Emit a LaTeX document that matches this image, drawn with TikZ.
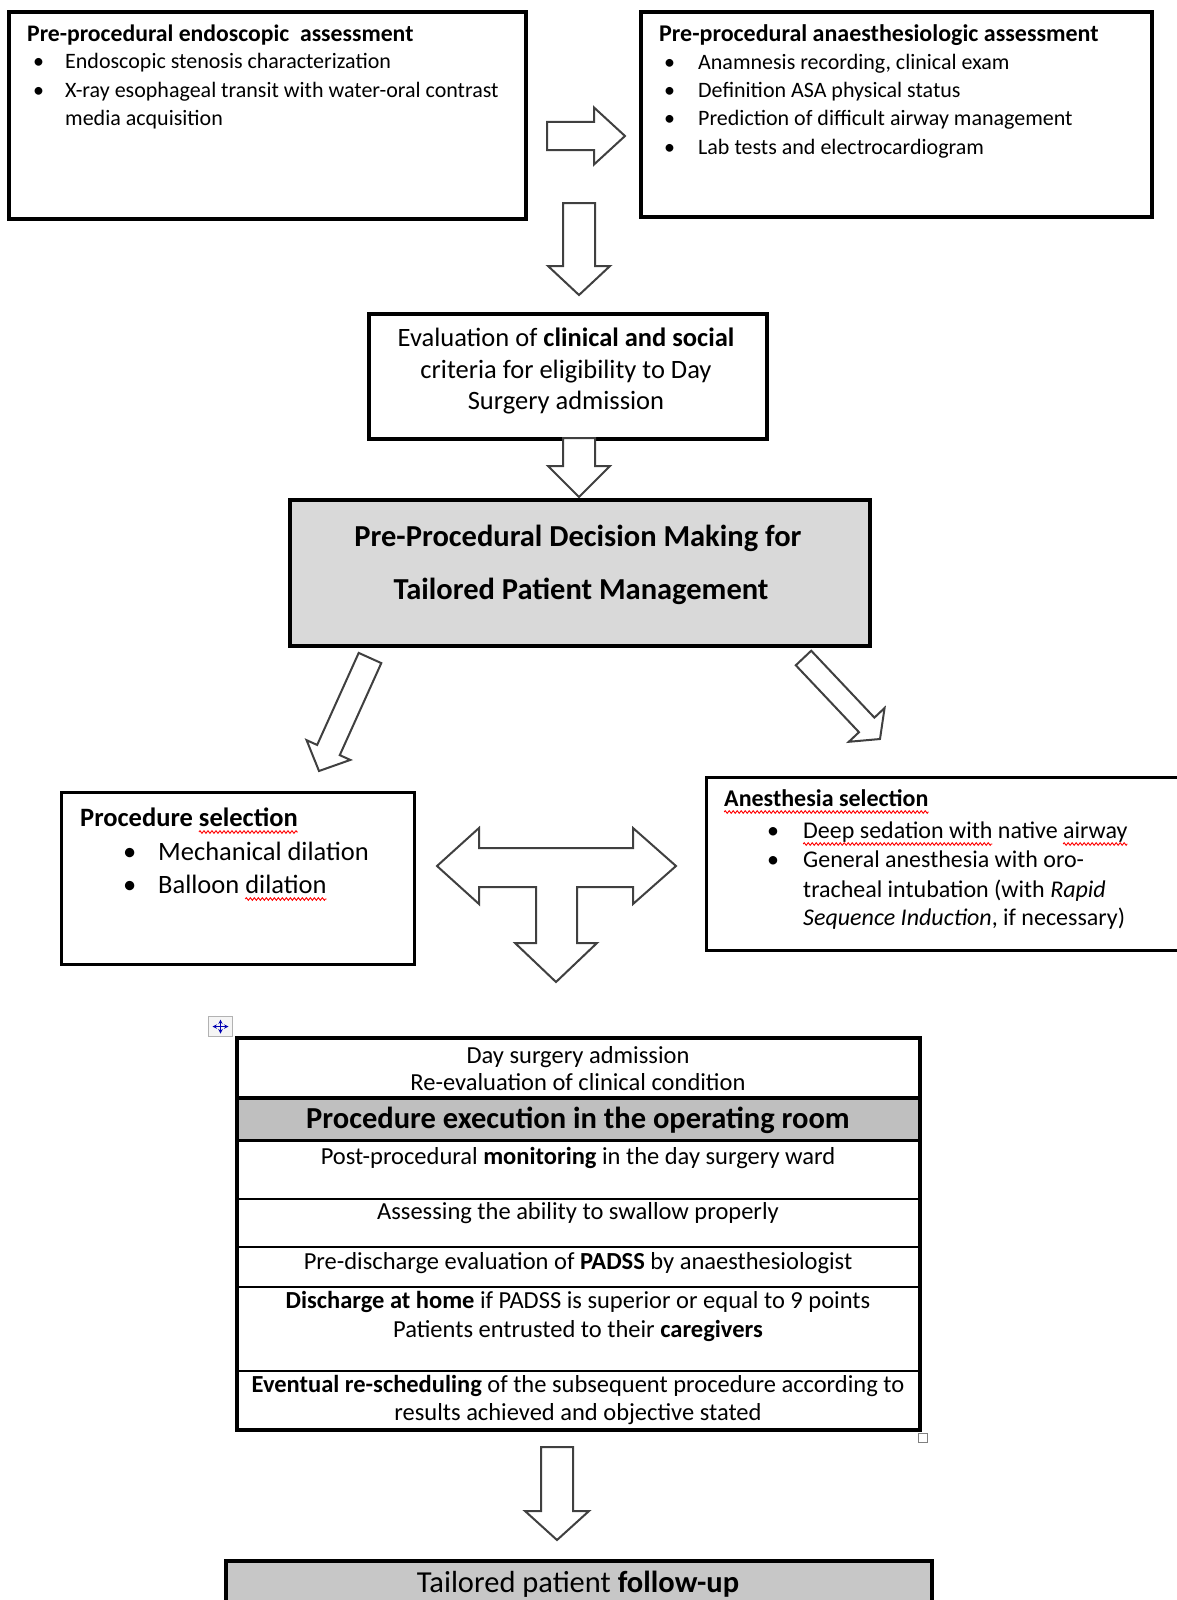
\documentclass[tikz,border=0pt]{standalone}
\usepackage{fontspec}
\setmainfont{Carlito}
\usetikzlibrary{calc,decorations.pathmorphing}
\newsavebox\spbox
\newdimen\spw
\newcommand\spell[1]{\sbox\spbox{#1}\spw=\wd\spbox\usebox\spbox\tikz[overlay,x=1pt,y=1pt]\draw[red, line width=0.9pt, decorate, decoration={zigzag, segment length=4pt, amplitude=1.3pt}] (-\spw,-6pt) -- (0pt,-6pt);}
\newcommand\blockarrow[6]{% name, tail, tip, shaft half width, head half width, head length
  \coordinate (#1c) at ($(#3)!#6!(#2)$);
  \draw[barrow] ($(#2)!#4!90:(#3)$) -- ($(#1c)!#4!-90:(#2)$) -- ($(#1c)!#5!-90:(#2)$) -- (#3)
     -- ($(#1c)!#5!90:(#2)$) -- ($(#1c)!#4!90:(#2)$) -- ($(#2)!#4!-90:(#3)$) -- cycle;
}
\tikzset{
  box/.style={draw, line width=3.8pt, inner sep=0pt, anchor=north west},
  row/.style={draw, line width=1.8pt, inner sep=0pt, anchor=north west, minimum width=681pt},
  barrow/.style={draw=black!75, line width=2pt, fill=white, line join=miter},
  txt/.style={inner sep=0pt, anchor=base west},
  ctxt/.style={inner sep=0pt, anchor=base},
  s22/.style={font=\fontsize{22}{26}\selectfont},
  b235/.style={font=\fontsize{23.7}{28}\selectfont\bfseries},
  s24/.style={font=\fontsize{24}{28}\selectfont},
  b24/.style={font=\fontsize{24}{28}\selectfont\bfseries},
  s245/.style={font=\fontsize{24.5}{29}\selectfont},
  s265/.style={font=\fontsize{26.5}{31}\selectfont},
  b265/.style={font=\fontsize{26.5}{31}\selectfont\bfseries},
  s305/.style={font=\fontsize{30.5}{36}\selectfont},
  b305/.style={font=\fontsize{30.5}{36}\selectfont\bfseries},
}
\begin{document}
\begin{tikzpicture}[x=1pt,y=-1pt]
\useasboundingbox (0,0) rectangle (1176,1600);
\fill[white] (0,0) rectangle (1176,1600);

% ---------- boxes ----------
\node[box, minimum width=517pt, minimum height=207pt] (b1) at (7,10) {};
\node[box, minimum width=511pt, minimum height=205pt] (b2) at (639,10) {};
\node[box, minimum width=398pt, minimum height=125pt] (b3) at (367,312) {};
\node[box, minimum width=580pt, minimum height=146pt, fill=black!15] (b4) at (288,498) {};
\node[box, line width=3.2pt, minimum width=353pt, minimum height=172pt] (b5) at (60,791) {};
\node[box, line width=3.2pt, minimum width=500pt, minimum height=173pt] (b6) at (705,776) {};
\node[box, minimum width=706pt, minimum height=70pt, fill=black!22] (b7) at (224,1559) {};

% ---------- box 1 ----------
\node[txt, b235] (b1t) at (27,42) {Pre-procedural endoscopic\ \ assessment};
\node[txt, s22] (b1b1) at (33,69) {\textbullet};
\node[txt, s22] (b1l1) at (65,69) {Endoscopic stenosis characterization};
\node[txt, s22] (b1b2) at (33,98) {\textbullet};
\node[txt, s22] (b1l2) at (65,98) {X-ray esophageal transit with water-oral contrast};
\node[txt, s22] (b1l3) at (65,125) {media acquisition};

% ---------- box 2 ----------
\node[txt, b24] (b2t) at (659,42) {Pre-procedural anaesthesiologic assessment};
\node[txt, s22] (b2b1) at (664,70) {\textbullet};
\node[txt, s22] (b2l1) at (698,70) {Anamnesis recording, clinical exam};
\node[txt, s22] (b2b2) at (664,98) {\textbullet};
\node[txt, s22] (b2l2) at (698,98) {Definition ASA physical status};
\node[txt, s22] (b2b3) at (664,125) {\textbullet};
\node[txt, s22] (b2l3) at (698,125) {Prediction of difficult airway management};
\node[txt, s22] (b2b4) at (664,154) {\textbullet};
\node[txt, s22] (b2l4) at (698,154) {Lab tests and electrocardiogram};

% ---------- box 3 ----------
\node[ctxt, s265] (b3l1) at (566,346) {Evaluation of \textbf{clinical and social}};
\node[ctxt, s265] (b3l2) at (566,378) {criteria for eligibility to Day};
\node[ctxt, s265] (b3l3) at (566,409) {Surgery admission};

% ---------- box 4 ----------
\node[ctxt, b305] (b4l1) at (578,546) {Pre-Procedural Decision Making for};
\node[ctxt, b305] (b4l2) at (581,599) {Tailored Patient Management};

% ---------- box 5 ----------
\node[txt, b265] (b5t) at (80,826) {Procedure \spell{selection}};
\node[txt, s265] (b5b1) at (123,860) {\textbullet};
\node[txt, s265] (b5l1) at (158,860) {Mechanical dilation};
\node[txt, s265] (b5b2) at (123,893) {\textbullet};
\node[txt, s265] (b5l2) at (158,893) {Balloon \spell{dilation}};

% ---------- box 6 ----------
\node[txt, b24] (b6t) at (724,806) {\spell{Anesthesia selection}};
\node[txt, s24] (b6b1) at (767,838) {\textbullet};
\node[txt, s24] (b6l1) at (803,838) {\spell{Deep sedation with} native \spell{airway}};
\node[txt, s24] (b6b2) at (767,867) {\textbullet};
\node[txt, s24] (b6l2) at (803,867) {General anesthesia with oro-};
\node[txt, s24] (b6l3) at (803,897) {tracheal intubation (with \textit{Rapid}};
\node[txt, s24] (b6l4) at (803,925) {\textit{Sequence Induction}, if necessary)};

% ---------- table ----------
\node[row, minimum height=60pt] (r1) at (237,1038) {};
\node[row, minimum height=41pt, fill=black!25] (r2) at (237,1098) {};
\node[row, minimum height=59pt] (r3) at (237,1139) {};
\node[row, minimum height=48pt] (r4) at (237,1198) {};
\node[row, minimum height=40pt] (r5) at (237,1246) {};
\node[row, minimum height=84pt] (r6) at (237,1286) {};
\node[row, minimum height=58pt] (r7) at (237,1370) {};
\draw[line width=4pt] (r2.north west) -- (r2.north east);
\draw[line width=3pt] (r2.south west) -- (r2.south east);
\draw[line width=4pt] (r1.north west) rectangle (r7.south east);

\node[ctxt, s245] (t1a) at (578,1063) {Day surgery admission};
\node[ctxt, s245] (t1b) at (578,1090) {Re-evaluation of clinical condition};
\node[ctxt, b305] (t2) at (578,1128) {Procedure execution in the operating room};
\node[ctxt, s245] (t3) at (578,1164) {Post-procedural \textbf{monitoring} in the day surgery ward};
\node[ctxt, s245] (t4) at (578,1219) {Assessing the ability to swallow properly};
\node[ctxt, s245] (t5) at (578,1269) {Pre-discharge evaluation of \textbf{PADSS} by anaesthesiologist};
\node[ctxt, s245] (t6a) at (578,1308) {\textbf{Discharge at home} if PADSS is superior or equal to 9 points};
\node[ctxt, s245] (t6b) at (578,1337) {Patients entrusted to their \textbf{caregivers}};
\node[ctxt, s245] (t7a) at (578,1392) {\textbf{Eventual re-scheduling} of the subsequent procedure according to};
\node[ctxt, s245] (t7b) at (578,1420) {results achieved and objective stated};

% table handles
\node[draw=black!30, fill=black!4, line width=1pt, minimum width=24pt, minimum height=20pt, inner sep=0pt, anchor=north west] (handle) at (208,1016) {};
\draw[blue!70!black, line width=1pt, <->, >=stealth] ($(handle.center)+(-8,0)$) -- ($(handle.center)+(8,0)$);
\draw[blue!70!black, line width=1pt, <->, >=stealth] ($(handle.center)+(0,-7)$) -- ($(handle.center)+(0,7)$);
\node[draw=black!50, fill=white, line width=1pt, minimum size=9pt, inner sep=0pt, anchor=north west] (resize) at (918,1433) {};

% ---------- final ----------
\node[ctxt, s305] (b7l) at (578,1592) {Tailored patient \textbf{follow-up}};

% ---------- arrows ----------
\coordinate (a1s) at (547,136); \coordinate (a1e) at (625,136);
\blockarrow{a1}{a1s}{a1e}{14pt}{28.5pt}{31pt}
\coordinate (a2s) at (579,203); \coordinate (a2e) at (579,295);
\blockarrow{a2}{a2s}{a2e}{16pt}{31pt}{29pt}
\coordinate (a3s) at (579,438); \coordinate (a3e) at (579,497);
\blockarrow{a3}{a3s}{a3e}{16pt}{31pt}{31pt}
\coordinate (a4s) at (370,658); \coordinate (a4e) at (319,771);
\blockarrow{a4}{a4s}{a4e}{12.4pt}{24pt}{23pt}
\coordinate (a5s) at (803.5,658); \coordinate (a5e) at (880,739);
\blockarrow{a5}{a5s}{a5e}{10.6pt}{24.6pt}{19.4pt}
\coordinate (a6s) at (557,1447); \coordinate (a6e) at (557,1540);
\blockarrow{a6}{a6s}{a6e}{16pt}{32pt}{29pt}

% T-shaped three-way arrow
\draw[barrow] (437,866) -- (479,828) -- (479,848) -- (633,848) -- (633,828) -- (676,866)
  -- (633,904) -- (633,887) -- (577,887) -- (577,943) -- (597,943) -- (556,982)
  -- (515,943) -- (536,943) -- (536,887) -- (479,887) -- (479,904) -- cycle;
\end{tikzpicture}
\end{document}
